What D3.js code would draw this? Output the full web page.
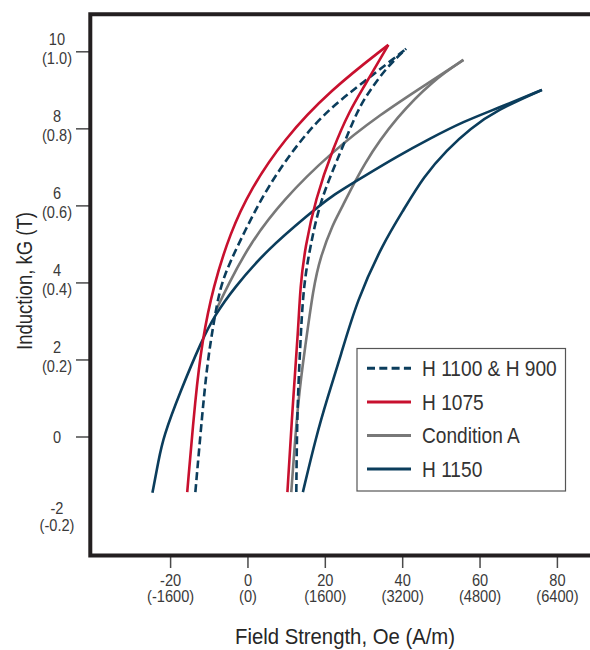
<!DOCTYPE html>
<html>
<head>
<meta charset="utf-8">
<script src="https://cdn.jsdelivr.net/npm/d3@7"></script>
<style>
  html, body { margin: 0; padding: 0; background: #fff; }
  svg { display: block; }
  text { font-family: "Liberation Sans", Arial, Helvetica, sans-serif; }
</style>
</head>
<body>
<svg id="chart" width="590" height="650"></svg>
<script>
// ---- Data (H in Oe, B in kG) ----
const seriesNames = ["H 1100 & H 900", "H 1075", "Condition A", "H 1150"];

// H 1100 & H 900 (dashed): upper and lower branches
const h1100Upper = [[-13.6,-1.43],[-11.8,0.62],[-10.5,1.92],[-8.9,2.95],[-7.2,3.90],[-4.6,4.55],[-1.1,5.29],[5.0,6.49],[13.5,7.71],[21.3,8.55],[30.0,9.22],[40.9,10.08]];
const h1100Lower = [[12.5,-1.43],[12.7,0.62],[13.5,2.34],[14.3,3.90],[16.1,4.94],[18.7,6.16],[23.9,7.38],[28.3,8.49],[31.6,9.01],[36.0,9.61],[40.9,10.08]];

// H 1075
const h1075Upper = [[-15.7,-1.43],[-13.6,1.04],[-11.8,2.52],[-9.0,3.90],[-4.6,5.30],[0.6,6.42],[9.1,7.71],[21.3,9.01],[36.3,10.18]];
const h1075Lower = [[10.2,-1.43],[11.7,1.04],[13.0,2.78],[13.5,3.90],[14.8,4.94],[17.4,6.16],[22.1,7.53],[26.4,8.49],[29.5,9.01],[36.3,10.18]];

// Condition A (upper branch joins the dashed curve near 3.3 kG)
const condAUpper = [[-8.2,3.30],[-5.4,3.90],[0.6,5.04],[9.1,6.16],[21.3,7.37],[34.2,8.38],[47.1,9.22],[55.7,9.79]];
const condALower = [[11.2,-1.43],[13.0,1.04],[14.8,2.34],[16.9,3.87],[18.7,4.68],[22.1,5.56],[23.9,5.87],[29.9,7.11],[38.5,8.32],[48.0,9.27],[55.7,9.79]];

// H 1150
const h1150Upper = [[-24.7,-1.45],[-23.1,-0.60],[-21.9,0.0],[-17.5,1.18],[-11.9,2.52],[-8.5,3.17],[-3.7,3.86],[4.9,4.86],[16.1,5.81],[21.3,6.24],[29.9,6.76],[38.5,7.28],[47.1,7.75],[55.7,8.19],[64.4,8.53],[76.0,9.01]];
const h1150Lower = [[14.2,-1.43],[17.6,0.0],[20.5,1.0],[23.9,2.08],[28.2,3.56],[35.0,5.04],[40.2,5.89],[45.4,6.76],[51.4,7.45],[57.5,8.01],[64.4,8.49],[76.0,9.01]];

// Ticks
const xTicks = [-20, 0, 20, 40, 60, 80];
const xTickSub = ["(-1600)", "(0)", "(1600)", "(3200)", "(4800)", "(6400)"];
const yTicks = [10, 8, 6, 4, 2, 0];
const yTickSub = ["(1.0)", "(0.8)", "(0.6)", "(0.4)", "(0.2)", ""];
const yExtraValue = -2;
const yExtraSub = "(-0.2)";

const colors = { dashed: "#0b3d5c", red: "#c8102e", gray: "#787878", navy: "#0b3d5c" };

// ---- Layout ----
const svg = d3.select("#chart");
const x = d3.scaleLinear().domain([-20, 80]).range([170.6, 557.4]);
const y = d3.scaleLinear().domain([0, 10]).range([437, 51.8]);

const frame = { left: 90.3, top: 14.3, right: 600, bottom: 555.5 };
const tickColor = "#4a4a4a";
const textColor = "#3a3a3a";
const SX = 0.86; // condensed look

function condensedText(g, tx, ty, sx, size, anchor, fill) {
  return g.append("text")
    .attr("transform", `translate(${tx},${ty}) scale(${sx},1)`)
    .attr("text-anchor", anchor).attr("font-size", size).attr("fill", fill);
}

// Ticks on y
yTicks.forEach((v, i) => {
  const yy = y(v);
  svg.append("line").attr("x1", 76).attr("x2", frame.left).attr("y1", yy).attr("y2", yy)
    .attr("stroke", tickColor).attr("stroke-width", 1.5);
  if (yTickSub[i]) {
    const t = condensedText(svg, 57, yy - 7, SX, 17, "middle", textColor);
    t.append("tspan").attr("x", 0).attr("y", 0).text(v);
    t.append("tspan").attr("x", 0).attr("y", 19).text(yTickSub[i]);
  } else {
    condensedText(svg, 57, yy + 6, SX, 17, "middle", textColor).text(v);
  }
});
{
  const t = condensedText(svg, 57, y(yExtraValue), SX, 17, "middle", textColor);
  t.append("tspan").attr("x", 0).attr("y", 0).text(yExtraValue);
  t.append("tspan").attr("x", 0).attr("y", 17).text(yExtraSub);
}

// Ticks on x
xTicks.forEach((v, i) => {
  const xx = x(v);
  svg.append("line").attr("x1", xx).attr("x2", xx).attr("y1", frame.bottom).attr("y2", 568)
    .attr("stroke", tickColor).attr("stroke-width", 1.5);
  const t = condensedText(svg, xx, 586, SX, 17, "middle", textColor);
  t.append("tspan").attr("x", 0).attr("y", 0).text(v);
  t.append("tspan").attr("x", 0).attr("y", 16.5).text(xTickSub[i]);
});

// Axis titles
svg.append("text").attr("x", 345).attr("y", 644.3).attr("text-anchor", "middle")
  .attr("font-size", 22).attr("fill", "#262626")
  .attr("textLength", 220).attr("lengthAdjust", "spacingAndGlyphs")
  .text("Field Strength, Oe (A/m)");
svg.append("text").attr("transform", "translate(31.5,281) rotate(-90)").attr("text-anchor", "middle")
  .attr("font-size", 22).attr("fill", "#262626")
  .attr("textLength", 138).attr("lengthAdjust", "spacingAndGlyphs")
  .text("Induction, kG (T)");

// Curves
const line = d3.line().x(d => x(d[0])).y(d => y(d[1])).curve(d3.curveBasis);
const curves = [
  { data: [condAUpper, condALower], color: colors.gray, dash: null },
  { data: [h1100Upper, h1100Lower], color: colors.dashed, dash: "8,4" },
  { data: [h1150Upper, h1150Lower], color: colors.navy, dash: null },
  { data: [h1075Upper, h1075Lower], color: colors.red, dash: null }
];
curves.forEach(c => {
  c.data.forEach(branch => {
    svg.append("path").attr("d", line(branch)).attr("fill", "none")
      .attr("stroke", c.color).attr("stroke-width", 2.6)
      .attr("stroke-dasharray", c.dash);
  });
});

// Frame (left, top, bottom; right side runs off the page)
svg.append("path")
  .attr("d", `M${frame.right},${frame.top} L${frame.left},${frame.top} L${frame.left},${frame.bottom} L${frame.right},${frame.bottom}`)
  .attr("fill", "none").attr("stroke", "#231f20").attr("stroke-width", 4);

// Legend
const lg = svg.append("g");
lg.append("rect").attr("x", 357).attr("y", 348.5).attr("width", 208.5).attr("height", 142.5)
  .attr("fill", "#fff").attr("stroke", "#555").attr("stroke-width", 1.2);
const legendItems = [
  { name: seriesNames[0], color: colors.dashed, dash: "8,4.3" },
  { name: seriesNames[1], color: colors.red, dash: null },
  { name: seriesNames[2], color: colors.gray, dash: null },
  { name: seriesNames[3], color: colors.navy, dash: null }
];
legendItems.forEach((it, i) => {
  const ry = 368.3 + i * 33.6;
  lg.append("line").attr("x1", 367).attr("x2", 411).attr("y1", ry).attr("y2", ry)
    .attr("stroke", it.color).attr("stroke-width", 3).attr("stroke-dasharray", it.dash);
  condensedText(lg, 422, ry + 7.8, 0.87, 22, "start", "#333").text(it.name);
});
</script>
</body>
</html>
